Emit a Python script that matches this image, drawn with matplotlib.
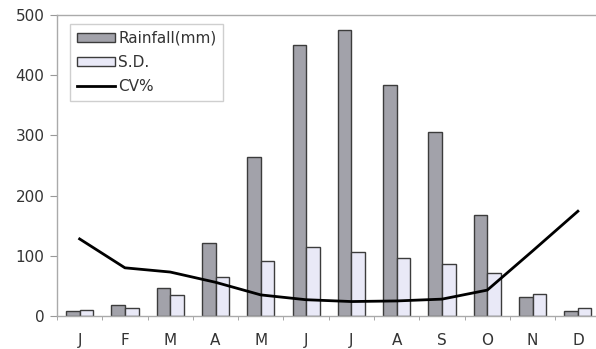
import numpy as np
import matplotlib.pyplot as plt

plt.rcParams['font.family'] = ['DejaVu Sans']

months = ["J", "F", "M", "A", "M", "J", "J", "A", "S", "O", "N", "D"]
rainfall = [8, 18, 47, 122, 264, 450, 475, 383, 305, 168, 32, 8]
sd = [10, 14, 35, 65, 91, 115, 107, 96, 86, 72, 37, 14]
cv = [128, 80, 73, 56, 35, 27, 24, 25, 28, 43, 108, 174]

x = np.arange(len(months))
w = 0.3

fig = plt.figure(figsize=(5.96, 3.49), dpi=100)
ax = fig.add_axes([0.0956, 0.0946, 0.912, 0.8625])

b1 = ax.bar(x - w / 2, rainfall, w, color="#a2a2aa", edgecolor="#3c3c3c", lw=1.0, label="Rainfall(mm)")
b2 = ax.bar(x + w / 2, sd, w, color="#e9e9f7", edgecolor="#3c3c3c", lw=1.0, label="S.D.")
l1, = ax.plot(x, cv, color="black", lw=2.0, label="CV%")

ax.set_xlim(-0.5, 11.5)
ax.set_ylim(0, 500)
ax.set_yticks([0, 100, 200, 300, 400, 500])
ax.set_xticks(x)
ax.set_xticklabels(months, fontsize=11)
ax.set_xticks(np.arange(-0.5, 12, 1), minor=True)
ax.tick_params(axis="x", which="major", length=0, pad=12, colors="#333333")
ax.tick_params(axis="x", which="minor", length=3, color="#999999")
ax.tick_params(axis="y", length=5, color="#999999", labelsize=11, labelcolor="#333333", pad=4)

for s in ["left", "bottom", "top"]:
    ax.spines[s].set_color("#aaaaaa")
    ax.spines[s].set_linewidth(1.0)
ax.spines["right"].set_visible(False)

leg = ax.legend([b1, b2, l1], ["Rainfall(mm)", "S.D.", "CV%"],
                loc="upper left", bbox_to_anchor=(0.024, 0.97), borderaxespad=0,
                fontsize=11, frameon=True, fancybox=False, edgecolor="#c4c4c4",
                handlelength=2.5, handleheight=0.55, labelspacing=0.6,
                borderpad=0.45, handletextpad=0.2)
leg.get_frame().set_linewidth(1.0)
for t in leg.get_texts():
    t.set_color("#333333")

fig.savefig("out.png", dpi=100)
